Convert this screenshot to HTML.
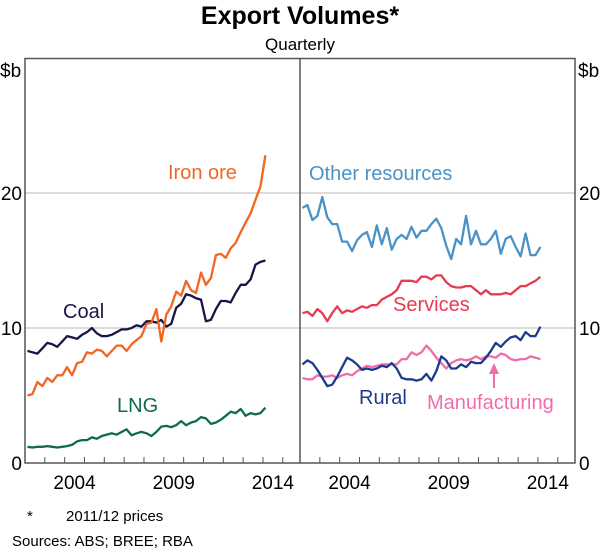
<!DOCTYPE html>
<html><head><meta charset="utf-8"><style>
body{margin:0;background:#fff;width:600px;height:549px;overflow:hidden;font-family:"Liberation Sans",Arial,sans-serif}
svg text{font-family:"Liberation Sans",Arial,sans-serif}
</style></head><body>
<svg id="chart" width="600" height="549" viewBox="0 0 600 549" xmlns="http://www.w3.org/2000/svg">
<text x="300" y="24" text-anchor="middle" font-size="25" font-weight="bold">Export Volumes*</text>
<text x="300" y="50" text-anchor="middle" font-size="17">Quarterly</text>
<g id="grid"></g>
<g id="series"></g>
<g id="axes"></g>
<text x="27" y="521" font-size="15">*</text>
<text x="66" y="521" font-size="15">2011/12 prices</text>
<text x="12" y="546" font-size="15">Sources:   ABS; BREE; RBA</text>
</svg>
<script>
const yearTicks=[2004,2009,2014];
const yTicks=[0,10,20];
const coal=[8.3,8.2,8.1,8.5,8.9,8.8,8.6,9.0,9.4,9.3,9.2,9.5,9.7,10.0,9.6,9.4,9.4,9.5,9.7,9.9,9.9,10.0,10.2,10.1,10.5,10.5,10.4,10.6,10.1,10.3,11.5,11.8,12.5,12.4,12.2,12.1,10.5,10.6,11.4,12.0,12.0,11.9,12.6,13.2,13.2,13.6,14.7,14.9,15.0];
const ironOre=[5.0,5.1,6.0,5.7,6.3,6.0,6.5,6.5,7.1,6.5,7.4,7.5,8.2,8.1,8.4,8.3,7.9,8.3,8.7,8.7,8.3,8.8,9.1,9.4,10.3,10.4,11.4,9.0,11.0,11.6,12.7,12.4,13.5,12.8,12.6,14.1,13.2,13.7,15.4,15.5,15.2,15.9,16.3,17.1,17.8,18.5,19.5,20.5,22.8];
const lng=[1.2,1.15,1.2,1.2,1.25,1.2,1.15,1.2,1.25,1.35,1.6,1.7,1.7,1.9,1.8,2.0,2.1,2.2,2.1,2.3,2.5,2.05,2.2,2.3,2.2,2.0,2.3,2.7,2.75,2.65,2.8,3.1,2.8,3.0,3.1,3.4,3.3,2.9,3.0,3.2,3.5,3.8,3.7,4.0,3.5,3.7,3.6,3.7,4.1];
const otherResources=[18.9,19.1,18.0,18.3,19.7,18.2,17.7,17.7,16.4,16.4,15.7,16.5,16.9,17.1,16.0,17.6,16.2,17.4,15.8,16.6,16.9,16.6,17.5,16.7,17.2,17.2,17.7,18.1,17.4,16.1,15.1,16.6,16.2,18.3,16.2,17.2,16.2,16.2,16.6,17.2,15.5,16.6,16.8,16.0,15.3,17.0,15.4,15.4,16.0];
const services=[11.1,11.2,10.9,11.4,11.1,10.5,11.1,11.6,11.1,11.3,11.2,11.4,11.6,11.5,11.7,11.7,12.1,12.3,12.5,12.8,13.5,13.5,13.5,13.4,13.8,13.8,13.6,13.9,13.9,13.4,13.1,13.0,13.0,13.1,13.1,12.8,12.5,12.8,12.5,12.5,12.5,12.6,12.5,12.8,13.1,13.1,13.3,13.5,13.8];
const rural=[7.3,7.6,7.4,6.9,6.3,5.7,5.8,6.4,7.1,7.8,7.6,7.3,6.9,7.0,6.9,7.0,7.2,7.1,7.4,7.0,6.3,6.2,6.2,6.1,6.2,6.6,6.1,6.8,7.9,7.6,7.0,7.0,7.3,7.1,7.5,7.4,7.4,7.8,8.3,8.9,8.6,9.0,9.3,9.4,9.1,9.7,9.4,9.4,10.1];
const manufacturing=[6.3,6.2,6.2,6.5,6.4,6.4,6.5,6.3,6.5,6.6,6.5,6.8,7.0,7.2,7.1,7.2,7.3,7.3,7.3,7.3,7.7,7.7,8.2,8.0,8.2,8.7,8.3,7.8,7.4,7.0,7.4,7.6,7.7,7.6,7.7,7.9,7.7,7.9,7.9,7.8,8.1,8.0,7.7,7.6,7.7,7.7,7.9,7.8,7.7];
const startYear=2002.125;

const NS='http://www.w3.org/2000/svg';
const L=25,MID=300,R=575,TOP=58.5,BOT=463;
const pxYear=19.83;
function xs(t,panel){return (panel?MID:L)+(t-2002)*pxYear;}
function ys(v){return BOT-v*13.5;}
function mk(tag,attrs,parent){const e=document.createElementNS(NS,tag);for(const k in attrs)e.setAttribute(k,attrs[k]);parent.appendChild(e);return e;}
const grid=document.getElementById('grid'),axes=document.getElementById('axes'),ser=document.getElementById('series');
yTicks.forEach(v=>{
  if(v>0){const g=mk('line',{x1:L,x2:R,y1:ys(v),y2:ys(v),stroke:'#c8c8c8','stroke-width':1.3},grid);
  
  }
  const a=mk('text',{x:22,y:ys(v)+7,'text-anchor':'end','font-size':19},axes);a.textContent=v;
  
  
  const b=mk('text',{x:579,y:ys(v)+7,'font-size':19},axes);b.textContent=v;
  
  
});
const f=mk('rect',{x:L,y:TOP,width:R-L,height:BOT-TOP,fill:'none',stroke:'#555','stroke-width':1.5},axes);


const d=mk('line',{x1:MID,x2:MID,y1:TOP,y2:BOT,stroke:'#555','stroke-width':1.5},axes);


[0,1].forEach(p=>{
  for(let yr=2003;yr<=2015;yr++){const t=mk('line',{x1:xs(yr,p),x2:xs(yr,p),y1:BOT,y2:BOT-6,stroke:'#555','stroke-width':1},axes);
    
    }
  yearTicks.forEach(yr=>{const t=mk('text',{x:xs(yr+0.5,p),y:BOT+26,'text-anchor':'middle','font-size':19},axes);t.textContent=yr;
    
    });
});
const u1=mk('text',{x:0,y:77,'font-size':19},axes);u1.textContent='$b';


const u2=mk('text',{x:578,y:77,'font-size':19},axes);u2.textContent='$b';


function line(data,panel,color,name){
  const pts=data.map((v,i)=>xs(startYear+i*0.25,panel).toFixed(1)+','+ys(v).toFixed(1)).join(' ');
  const e=mk('polyline',{points:pts,fill:'none',stroke:color,'stroke-width':2.3,'stroke-linejoin':'round'},ser);
  
  
}
line(lng,0,'#0f6b4d','lng-line');
line(coal,0,'#1b1446','coal-line');
line(ironOre,0,'#f26522','iron-ore-line');
line(otherResources,1,'#4b93c6','other-resources-line');
line(services,1,'#e83a50','services-line');
line(manufacturing,1,'#ef6eaa','manufacturing-line');
line(rural,1,'#1c3a8e','rural-line');
function lab(txt,x,y,color,name){const t=mk('text',{x:x,y:y,'font-size':20,fill:color},ser);t.textContent=txt;
  
  }
lab('Iron ore',168,179,'#f26522','iron-ore-label');
lab('Coal',63,318,'#1b1446','coal-label');
lab('LNG',117,412,'#0f6b4d','lng-label');
lab('Other resources',309,180,'#4b93c6','other-resources-label');
lab('Services',393,311,'#e83a50','services-label');
lab('Rural',359,404,'#1c3a8e','rural-label');
lab('Manufacturing',427,409,'#ef6eaa','manufacturing-label');
const ar=mk('line',{x1:494,y1:388,x2:494,y2:372,stroke:'#ef6eaa','stroke-width':2},ser);


const ah=mk('polygon',{points:'489,374 499,374 494,363',fill:'#ef6eaa'},ser);


</script>
</body></html>
